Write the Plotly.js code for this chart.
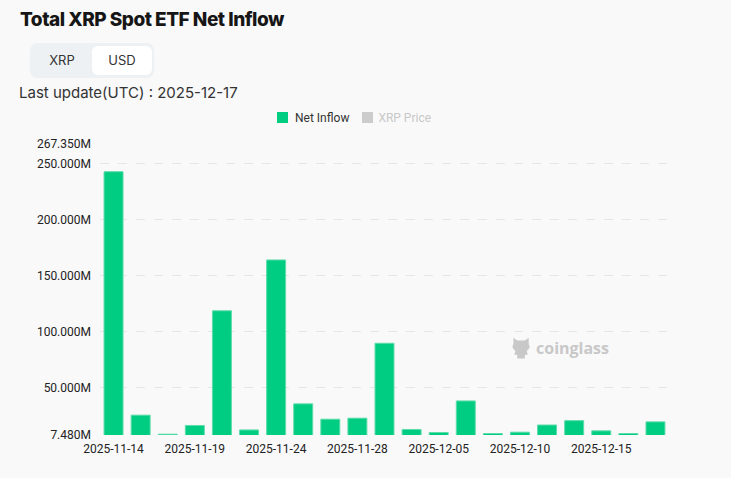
<!DOCTYPE html>
<html>
<head>
<meta charset="utf-8">
<script src="https://cdn.plot.ly/plotly-3.0.1.min.js"></script>
<style>
  html, body { margin:0; padding:0; background:#f9f9f9; width:731px; height:478px; overflow:hidden; }
  #wrap { position:relative; width:731px; height:478px; }
  #chart { position:absolute; left:0; top:0; width:731px; height:478px; }
  .title { position:absolute; left:20px; top:8px; font-family:Inter, "Noto Sans", sans-serif; font-weight:800; font-size:19px; color:#161616; letter-spacing:-0.5px; }
  .toggle { position:absolute; left:30px; top:43px; width:124px; height:35px; background:#eef1f4; border-radius:7px; }
  .toggle .opt { position:absolute; top:3px; height:29px; line-height:29px; text-align:center; font-family:Inter, "Noto Sans", sans-serif; font-size:13px; color:#333; }
  .toggle .xrp { left:2px; width:60px; }
  .toggle .usd { left:62px; width:60px; background:#fff; border-radius:6px; }
  .upd { position:absolute; left:19px; top:83px; font-family:Inter, "Noto Sans", sans-serif; font-size:15px; color:#333; }
  .legend { position:absolute; top:109px; left:277px; font-family:Roboto, sans-serif; font-size:12px; height:16px; line-height:16px; }
  .legend span { display:inline-block; vertical-align:middle; }
  .sq { width:11px; height:11px; }
</style>
</head>
<body>
<div id="wrap">
  <div id="chart"></div>
  <div class="title">Total XRP Spot ETF Net Inflow</div>
  <div class="toggle"><div class="opt xrp">XRP</div><div class="opt usd">USD</div></div>
  <div class="upd">Last update(UTC) : 2025-12-17</div>
  <div class="legend" id="legend"></div>
</div>
<script>
// Data (net inflow, millions USD)
const dates = ["2025-11-14","2025-11-17","2025-11-18","2025-11-19","2025-11-20","2025-11-21",
  "2025-11-24","2025-11-25","2025-11-26","2025-11-28","2025-12-01","2025-12-03",
  "2025-12-05","2025-12-08","2025-12-09","2025-12-10","2025-12-11","2025-12-12",
  "2025-12-15","2025-12-16","2025-12-17"];
const netInflow = [242.6, 25.2, 8.2, 16.0, 118.4, 12.0, 163.8, 35.3, 21.6, 22.5, 89.4, 12.4,
  9.7, 37.9, 8.8, 10.0, 16.4, 20.3, 11.2, 8.8, 19.2];
const xTickDates = ["2025-11-14","2025-11-19","2025-11-24","2025-11-28","2025-12-05","2025-12-10","2025-12-15"];
const yTickVals = [7.48, 50, 100, 150, 200, 250, 267.35];
const yTickText = ["7.480M","50.000M","100.000M","150.000M","200.000M","250.000M","267.350M"];
const legendNames = ["Net Inflow", "XRP Price"];
const legendColors = ["#00cc82", "#cccccc"];
const legendTextColors = ["#333333", "#c8c8c8"];

const lg = document.getElementById('legend');
legendNames.forEach((n, i) => {
  const s = document.createElement('span'); s.className = 'sq'; s.style.background = legendColors[i];
  s.style.marginRight = i === 0 ? '7px' : '5px';
  const t = document.createElement('span'); t.textContent = n; t.style.color = legendTextColors[i];
  t.style.marginRight = i === 0 ? '13px' : '0';
  lg.appendChild(s); lg.appendChild(t);
});

const trace = {
  type: 'bar', x: dates, y: netInflow, name: 'Net Inflow',
  marker: { color: '#00cc82', line: { color: '#5edcaa', width: 1 } },
  hoverinfo: 'x+y'
};

const mascot = 'data:image/svg+xml;utf8,' + encodeURIComponent(
 '<svg xmlns="http://www.w3.org/2000/svg" width="22" height="26" viewBox="0 0 22 26">' +
 '<path fill="#c8c8c8" d="M3 2 L7 5 L15 5 L19 2 L19 9 Q21 11 19 14 L17 16 L18 20 L15 20 L15 24 L7 24 L7 20 L4 20 L5 16 L3 14 Q1 11 3 9 Z"/></svg>');

const layout = {
  width: 731, height: 478,
  margin: { l: 100, r: 62, t: 144, b: 43 },
  paper_bgcolor: '#f9f9f9', plot_bgcolor: '#f9f9f9',
  showlegend: false,
  bargap: 0.3,
  font: { family: 'Roboto, sans-serif', size: 12, color: '#222' },
  xaxis: {
    type: 'category', range: [-0.5, dates.length - 0.5],
    tickmode: 'array', tickvals: xTickDates, ticktext: xTickDates,
    showgrid: false, zeroline: false, showline: false, ticks: '',
    ticklabelstandoff: 5,
    tickfont: { family: 'Roboto, sans-serif', size: 12, color: '#222' },
    fixedrange: true
  },
  yaxis: {
    range: [7.48, 267.35],
    tickmode: 'array', tickvals: yTickVals, ticktext: yTickText,
    showgrid: true, gridcolor: '#e6e6e6', griddash: 'dash', gridwidth: 1,
    zeroline: false, showline: false, ticks: '',
    ticklabelstandoff: 8,
    tickfont: { family: 'Roboto, sans-serif', size: 12, color: '#222' },
    fixedrange: true
  },
  annotations: [{
    xref: 'paper', yref: 'paper', x: 0.763, y: 0.2985, xanchor: 'left', yanchor: 'middle',
    text: '<b>coinglass</b>', showarrow: false,
    font: { family: '"Open Sans", sans-serif', size: 16, color: '#c8c8c8' }
  }],
  images: [{
    source: mascot, xref: 'paper', yref: 'paper', x: 0.72, y: 0.2985,
    sizex: 0.04, sizey: 0.085, xanchor: 'left', yanchor: 'middle', layer: 'below'
  }]
};

Plotly.newPlot('chart', [trace], layout, { displayModeBar: false, staticPlot: true });
</script>
</body>
</html>
